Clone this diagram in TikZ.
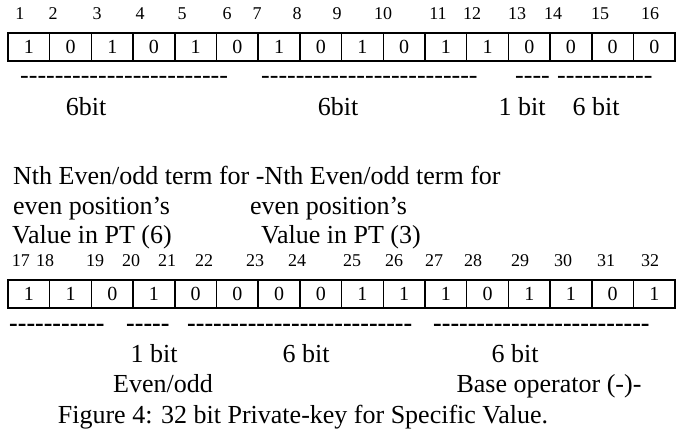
\documentclass[tikz,border=0pt]{standalone}
\usepackage{fontspec}
\setmainfont{Liberation Serif}[Ligatures=TeXOff]
\begin{document}
\begin{tikzpicture}[x=1pt,y=-1pt,
  lbl/.style={inner sep=0pt, font=\fontsize{26}{30}\selectfont},
  numtxt/.style={inner sep=0pt, anchor=mid, font=\fontsize{18}{21}\selectfont},
  cellbox/.style={draw, line width=1.5pt, minimum width=41.7pt, minimum height=28pt, inner sep=0pt, font=\fontsize{20}{24}\selectfont},
  dashtxt/.style={inner sep=0pt, anchor=mid west, font=\fontsize{26}{30}\selectfont},
  bdashtxt/.style={inner sep=0pt, anchor=mid west, font=\fontsize{26}{30}\selectfont\bfseries}]
\useasboundingbox (0,0) rectangle (691,437);
% top row numbers
\foreach \n/\x in {1/20,2/53,3/97,4/140,5/182,6/227,7/257,8/297,9/337,10/383,11/438,12/472,13/517,14/553,15/600,16/650}
  \node[numtxt] (n\n) at (\x,17.5) {\n};
% top cells
\foreach \b [count=\i] in {1,0,1,0,1,0,1,0,1,0,1,1,0,0,0,0}
  \node[cellbox] (c\i) at ({8+41.7*(\i-0.5)},47) {\b};
% top dashes
\node[dashtxt] (d1) at (20,81) {------------------------};
\node[dashtxt] (d2) at (261,81) {-------------------------};
\node[dashtxt] (d3) at (515,81) {----};
\node[dashtxt] (d4) at (557,81) {-----------};
% top labels
\node[lbl, anchor=mid] (b1) at (86,113) {6bit};
\node[lbl, anchor=mid] (b2) at (338,113) {6bit};
\node[lbl, anchor=mid] (b3) at (522,113) {1 bit};
\node[lbl, anchor=mid] (b4) at (596,113) {6 bit};
% description
\node[lbl, anchor=mid west] (t1) at (13,182) {Nth Even/odd term for -Nth Even/odd term for};
\node[lbl, anchor=mid west] (t2) at (13,212) {even position’s};
\node[lbl, anchor=mid west] (t3) at (250,212) {even position’s};
\node[lbl, anchor=mid west] (t4) at (12,241) {Value in PT (6)};
\node[lbl, anchor=mid west] (t5) at (261,241) {Value in PT (3)};
% lower row numbers
\foreach \n/\x in {17/21,18/45,19/95,20/131,21/167,22/204,23/255,24/297,25/352,26/394,27/434,28/473,29/520,30/563,31/606,32/650}
  \node[numtxt] (n\n) at (\x,264) {\n};
% lower cells
\foreach \b [count=\i] in {1,1,0,1,0,0,0,0,1,1,1,0,1,1,0,1}
  \node[cellbox] (e\i) at ({8+41.7*(\i-0.5)},294) {\b};
% lower dashes
\node[bdashtxt] (f1) at (9,329) {-----------};
\node[bdashtxt] (f2) at (126,329) {-----};
\node[bdashtxt] (f3) at (187,329) {--------------------------};
\node[bdashtxt] (f4) at (433,329) {-------------------------};
% lower labels
\node[lbl, anchor=mid] (g1) at (154,360) {1 bit};
\node[lbl, anchor=mid] (g2) at (306,360) {6 bit};
\node[lbl, anchor=mid] (g3) at (515,360) {6 bit};
\node[lbl, anchor=mid] (g4) at (163,390) {Even/odd};
\node[lbl, anchor=mid] (g5) at (549,390) {Base operator (-)-};
\node[lbl, anchor=mid] (cap) at (303,421) {Figure 4: 32 bit Private-key for Specific Value.};
\end{tikzpicture}
\end{document}
